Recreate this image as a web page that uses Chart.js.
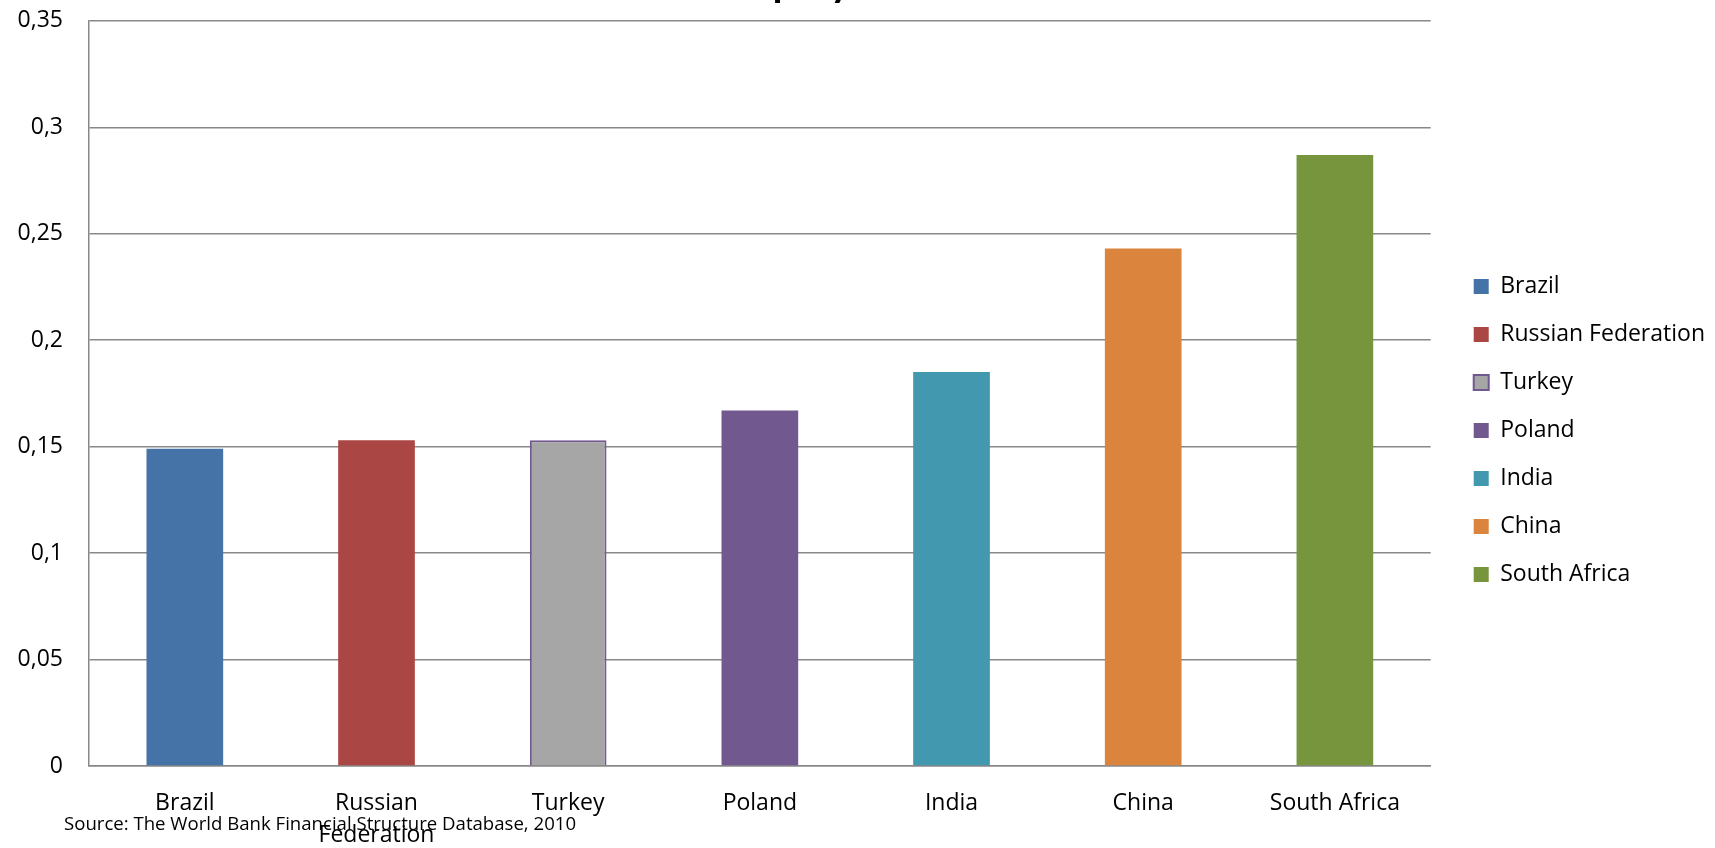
<!DOCTYPE html>
<html><head><meta charset="utf-8">
<script src="https://cdn.jsdelivr.net/npm/chart.js@4.4.0/dist/chart.umd.min.js"></script>
<style>
html,body{margin:0;padding:0;background:#fff;overflow:hidden;}
#wrap{position:relative;width:1715px;height:848px;overflow:hidden;}
#title{position:absolute;left:552px;top:-39px;font:bold 40px Lato;line-height:40px;white-space:nowrap;color:#000;}
#source{position:absolute;left:64px;top:811px;font:18.6px "Open Sans";line-height:24px;white-space:nowrap;color:#000;}
canvas{position:absolute;left:0;top:0;}
</style></head><body>
<div id="wrap">
<canvas id="c" width="1715" height="848"></canvas>
<div id="title">Return on Equity</div>
<div id="source">Source: The World Bank Financial Structure Database, 2010</div>
</div>
<script>
const categories = ['Brazil', 'Russian Federation', 'Turkey', 'Poland', 'India', 'China', 'South Africa'];
const axisLabels = [['Brazil'], ['Russian', 'Federation'], ['Turkey'], ['Poland'], ['India'], ['China'], ['South Africa']];
const values = [0.149, 0.153, 0.153, 0.167, 0.185, 0.243, 0.287];
const yTickLabels = ['0', '0,05', '0,1', '0,15', '0,2', '0,25', '0,3', '0,35'];
const fillColors = ['#4572A7', '#AA4643', '#A6A6A6', '#71588F', '#4198AF', '#DB843D', '#77953D'];
const borderColors = ['#4572A7', '#AA4643', '#71588F', '#71588F', '#4198AF', '#DB843D', '#77953D'];
const borderWidths = [0, 0, 2, 0, 0, 0, 0];

const FONT = '"Open Sans"';
const gridColor = '#888888';

new Chart(document.getElementById('c'), {
  type: 'bar',
  data: {
    labels: axisLabels,
    datasets: [{
      label: 'value',
      data: values,
      backgroundColor: fillColors,
      borderColor: borderColors,
      borderWidth: borderWidths,
      barPercentage: 0.4,
      categoryPercentage: 1.0,
      yAxisID: 'y'
    }]
  },
  options: {
    responsive: false,
    animation: false,
    events: [],
    layout: { padding: { top: 4, left: 0, right: 0, bottom: 0 } },
    plugins: {
      tooltip: { enabled: false },
      title: { display: false },
      legend: {
        display: true,
        position: 'right',
        align: 'center',
        title: { display: true, text: '', padding: 0, font: { size: 7.5 } },
        labels: {
          boxWidth: 15,
          boxHeight: 15,
          padding: 25,
          color: '#000',
          font: { family: FONT, size: 23 },
          generateLabels: () => categories.map((c, i) => ({
            text: c,
            fillStyle: fillColors[i],
            strokeStyle: borderColors[i],
            lineWidth: borderWidths[i],
            fontColor: '#000',
            hidden: false,
            index: i
          }))
        }
      }
    },
    scales: {
      x: {
        grid: { display: false, drawTicks: false },
        border: { display: true, color: gridColor, width: 1.5 },
        ticks: {
          color: '#000',
          font: { family: FONT, size: 23, lineHeight: 1.4 },
          padding: 21,
          maxRotation: 0,
          autoSkip: false
        },
        afterFit: (s) => { s.height = 82; }
      },
      y: {
        min: 0,
        max: 0.35,
        grid: { color: gridColor, lineWidth: 1.5, drawTicks: true, tickLength: 19, tickColor: 'rgba(0,0,0,0)' },
        border: { display: true, color: gridColor, width: 1.5 },
        ticks: {
          stepSize: 0.05,
          color: '#000',
          font: { family: FONT, size: 23 },
          padding: 7,
          callback: (v, i) => yTickLabels[i]
        },
        afterFit: (s) => { s.width = 89; }
      },
      gap: {
        type: 'linear',
        position: 'right',
        display: true,
        grid: { display: false, drawTicks: false },
        border: { display: false },
        ticks: { display: false },
        afterFit: (s) => { s.width = 18; }
      }
    }
  }
});
</script>
</body></html>
